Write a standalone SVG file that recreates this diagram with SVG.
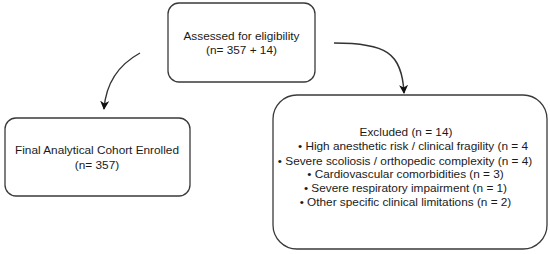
<svg xmlns="http://www.w3.org/2000/svg" width="550" height="254" viewBox="0 0 550 254">
<defs>
<style>
.box{fill:#fff;stroke:#3a3a3a;stroke-width:1.3}
.t{font-family:"Liberation Sans",Arial,sans-serif;font-size:11.8px;fill:#1a1a1a;text-anchor:middle}
.c{fill:none;stroke:#333;stroke-width:1.4}
</style>
<marker id="ah" viewBox="0 0 10 10" refX="9" refY="5" markerWidth="9" markerHeight="9" markerUnits="userSpaceOnUse" orient="auto">
<path d="M0,0 L10,5 L0,10 L3,5 Z" fill="#111"/>
</marker>
</defs>
<rect width="550" height="254" fill="#fff"/>
<g id="connectors">
<path class="c" d="M140,53 C120,64 106,82 104,109" marker-end="url(#ah)"/>
<path class="c" d="M334,43 C385,43 402,52 404,93" marker-end="url(#ah)"/>
</g>
<g id="assessed">
<rect class="box" x="168" y="3" width="147" height="79" rx="11"/>
<text class="t" x="241.5" y="40">Assessed for eligibility</text>
<text class="t" x="241.5" y="54">(n= 357 + 14)</text>
</g>
<g id="final">
<rect class="box" x="5" y="118" width="185" height="78" rx="11"/>
<text class="t" x="97" y="154">Final Analytical Cohort Enrolled</text>
<text class="t" x="97" y="169">(n= 357)</text>
</g>
<g id="excluded">
<rect class="box" x="273" y="95" width="274" height="154" rx="24"/>
<text class="t" x="406" y="136">Excluded (n = 14)</text>
<text class="t" x="413" y="150">• High anesthetic risk / clinical fragility (n = 4</text>
<text class="t" x="405" y="165">• Severe scoliosis / orthopedic complexity (n = 4)</text>
<text class="t" x="405.5" y="178">• Cardiovascular comorbidities (n = 3)</text>
<text class="t" x="405.5" y="192">• Severe respiratory impairment (n = 1)</text>
<text class="t" x="405.5" y="206">• Other specific clinical limitations (n = 2)</text>
</g>
</svg>
